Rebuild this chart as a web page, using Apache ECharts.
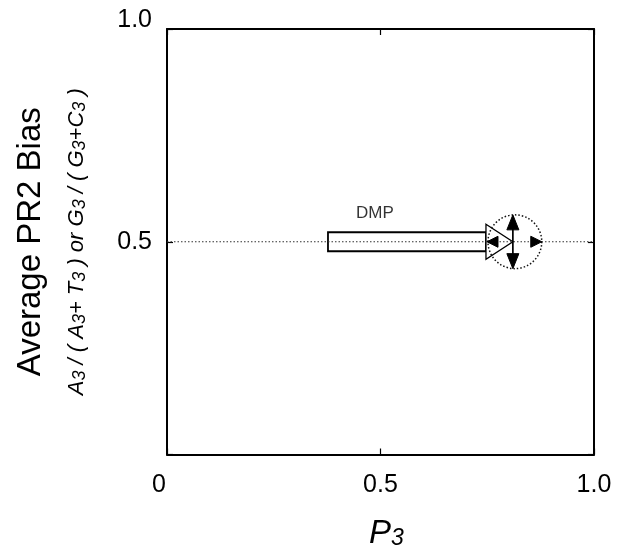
<!DOCTYPE html>
<html>
<head>
<meta charset="utf-8">
<script src="https://cdn.jsdelivr.net/npm/echarts@6/dist/echarts.min.js"></script>
<style>html,body{margin:0;padding:0;background:#fff;}#chart{width:617px;height:555px;}</style>
</head>
<body>
<div id="chart"></div>
<script>
// ---- data ----
const xTicks = [0, 0.5, 1.0];
const xTickLabels = ['0', '0.5', '1.0'];
const yTickLabels = ['', '0.5', '1.0'];
const refLineX = [0, 1];
const refLineY = [0.5, 0.5];
// DMP arrow: shaft start x, y, head base x, head tip x
const dmpArrow = [0.377, 0.5, 0.747, 0.81];
// equilibrium region: centre x, centre y, radius (x units)
const eqRegion = [0.81, 0.5, 0.063];
const dmpLabel = ['DMP', 0.487, 0.566];

const FONT = 'Liberation Sans, Arial, sans-serif';
const chart = echarts.init(document.getElementById('chart'));

function arrowItem(params, api) {
  const p0 = api.coord([api.value(0), api.value(1)]);
  const pb = api.coord([api.value(2), api.value(1)]);
  const pt = api.coord([api.value(3), api.value(1)]);
  const sh = 9.5, hh = 17.5;
  return {
    type: 'group',
    children: [
      { type: 'rect', shape: { x: p0[0], y: p0[1] - sh, width: pb[0] - p0[0], height: 2 * sh },
        style: { fill: '#fff', stroke: '#000', lineWidth: 1.8 } },
      { type: 'polygon', shape: { points: [[pb[0], pb[1] - hh], [pt[0], pt[1]], [pb[0], pb[1] + hh]] },
        style: { fill: '#fff', stroke: '#000', lineWidth: 1.3 } }
    ]
  };
}

function regionItem(params, api) {
  const c = api.coord([api.value(0), api.value(1)]);
  const r = api.size([api.value(2), 0])[0];
  const cx = c[0], cy = c[1];
  const aw = 6, al = 15, bw = 5.5, bl = 11;
  const blk = { fill: '#000', stroke: '#000', lineWidth: 1 };
  return {
    type: 'group',
    children: [
      { type: 'circle', shape: { cx: cx + 2, cy: cy, r: r },
        style: { fill: 'none', stroke: '#111', lineWidth: 1.5, lineDash: [1.5, 2] } },
      { type: 'line', shape: { x1: cx, y1: cy - r + 2, x2: cx, y2: cy + r - 2 },
        style: { stroke: '#000', lineWidth: 1.7 } },
      { type: 'polygon', shape: { points: [[cx, cy - r], [cx - aw, cy - r + al], [cx + aw, cy - r + al]] }, style: blk },
      { type: 'polygon', shape: { points: [[cx, cy + r], [cx - aw, cy + r - al], [cx + aw, cy + r - al]] }, style: blk },
      { type: 'polygon', shape: { points: [[cx - r + 1, cy], [cx - r + 1 + bl, cy - bw], [cx - r + 1 + bl, cy + bw]] }, style: blk },
      { type: 'polygon', shape: { points: [[cx + r + 2, cy], [cx + r + 2 - bl, cy - bw], [cx + r + 2 - bl, cy + bw]] }, style: blk }
    ]
  };
}

const axisLineStyle = { color: '#000', width: 2 };
const tickStyle = { show: true, inside: true, length: 6, lineStyle: { color: '#000', width: 1.2 } };

const option = {
  backgroundColor: '#fff',
  animation: false,
  grid: { left: 167, right: 23, top: 29, bottom: 97, containLabel: false },
  xAxis: [
    {
      type: 'value', position: 'bottom', min: 0, max: 1, interval: 0.5,
      axisLine: { show: true, onZero: false, lineStyle: axisLineStyle },
      axisTick: tickStyle,
      splitLine: { show: false },
      axisLabel: {
        margin: 18, color: '#000', fontSize: 25, fontFamily: FONT,
        formatter: function (v) {
          const i = xTicks.findIndex(t => Math.abs(t - v) < 1e-9);
          const s = i >= 0 ? xTickLabels[i] : '';
          return i === 0 ? '{z|' + s + '}' : s;
        },
        rich: { z: { fontSize: 25, fontFamily: FONT, color: '#000', padding: [0, 16, 0, 0] } }
      },
      name: '{p|P}{s|3}', nameLocation: 'middle', nameGap: 61,
      nameTextStyle: {
        padding: [0, 0, 0, 12],
        rich: {
          p: { fontSize: 33, fontStyle: 'italic', fontFamily: FONT, color: '#000', lineHeight: 36 },
          s: { fontSize: 23, fontStyle: 'italic', fontFamily: FONT, color: '#000', lineHeight: 36, padding: [10, 0, 0, 0] }
        }
      }
    },
    {
      type: 'value', position: 'top', min: 0, max: 1, interval: 0.5,
      axisLine: { show: true, onZero: false, lineStyle: axisLineStyle },
      axisTick: tickStyle,
      splitLine: { show: false }, axisLabel: { show: false }
    }
  ],
  yAxis: [
    {
      type: 'value', position: 'left', min: 0, max: 1, interval: 0.5,
      axisLine: { show: true, onZero: false, lineStyle: axisLineStyle },
      axisTick: tickStyle,
      splitLine: { show: false },
      axisLabel: {
        margin: 15, color: '#000', fontSize: 25, fontFamily: FONT,
        formatter: function (v) {
          const i = xTicks.findIndex(t => Math.abs(t - v) < 1e-9);
          const s = i >= 0 ? yTickLabels[i] : '';
          return i === 2 ? '{u|' + s + '}' : s;
        },
        rich: { u: { fontSize: 25, fontFamily: FONT, color: '#000', padding: [0, 0, 18, 0] } }
      },
      name: '{t|Average PR2 Bias}\n{i|A}{s|3}{i| / ( A}{s|3}{i|+ T}{s|3}{i| ) or G}{s|3}{i| / ( G}{s|3}{i|+C}{s|3}{i| )}',
      nameLocation: 'middle', nameRotate: 90, nameGap: 70,
      nameTextStyle: {
        rich: {
          t: { fontSize: 33, fontFamily: FONT, color: '#000', lineHeight: 52 },
          i: { fontSize: 22, fontStyle: 'italic', fontFamily: FONT, color: '#000', lineHeight: 40 },
          s: { fontSize: 18, fontStyle: 'italic', fontFamily: FONT, color: '#000', lineHeight: 40, padding: [6, 0, 0, 0] }
        }
      }
    },
    {
      type: 'value', position: 'right', min: 0, max: 1, interval: 0.5,
      axisLine: { show: true, onZero: false, lineStyle: axisLineStyle },
      axisTick: tickStyle,
      splitLine: { show: false }, axisLabel: { show: false }
    }
  ],
  series: [
    {
      type: 'custom', name: 'DMP arrow', xAxisIndex: 0, yAxisIndex: 0, z: 2,
      renderItem: arrowItem, data: [dmpArrow], clip: false
    },
    {
      type: 'line', name: 'ref', xAxisIndex: 0, yAxisIndex: 0, z: 3,
      data: refLineX.map((x, i) => [x, refLineY[i]]),
      symbol: 'none', lineStyle: { color: '#333', width: 1.2, type: [1.5, 2] }, silent: true
    },
    {
      type: 'custom', name: 'region', xAxisIndex: 0, yAxisIndex: 0, z: 4,
      renderItem: regionItem, data: [eqRegion], clip: false
    },
    {
      type: 'scatter', name: 'label', xAxisIndex: 0, yAxisIndex: 0, symbolSize: 0, z: 5,
      data: [{ name: dmpLabel[0], value: [dmpLabel[1], dmpLabel[2]] }],
      label: { show: true, position: 'inside', formatter: '{b}', color: '#000', fontSize: 17, fontFamily: FONT }
    }
  ]
};
chart.setOption(option);
</script>
</body>
</html>
